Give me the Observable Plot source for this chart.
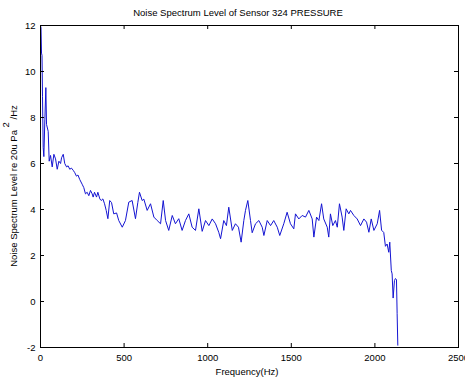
<!DOCTYPE html>
<html>
<head>
<meta charset="utf-8">
<script src="https://cdn.jsdelivr.net/npm/d3@7"></script>
<script src="https://cdn.jsdelivr.net/npm/@observablehq/plot@0.6"></script>
<style>
  html, body { margin: 0; padding: 0; background: #fff; }
  #chart { position: relative; width: 465px; height: 379px; }
</style>
</head>
<body>
<div id="chart"></div>
<script>
const titleText = "Noise Spectrum Level of Sensor 324 PRESSURE";
const xLabel = "Frequency(Hz)";
const yLabelMain = "Noise Spectrum Level re 20u Pa ";
const yLabelSup = "2";
const yLabelEnd = " /Hz";

const xTicks = [0, 500, 1000, 1500, 2000, 2500];
const yTicks = [-2, 0, 2, 4, 6, 8, 10, 12];

const freq = [0,3,6,9,12,16,20,26,32,36,46,52,60,70,80,90,100,110,120,126,136,145,156,165,175,185,196,205,215,224,235,249,259,269,279,289,299,309,315,323,335,343,355,363,373,383,393,403,414,425,438,455,468,489,508,528,548,568,582,592,608,618,638,658,678,698,718,734,748,767,788,807,827,847,867,887,907,927,947,967,987,1007,1027,1047,1066,1077,1096,1112,1126,1147,1166,1184,1200,1216,1226,1240,1256,1266,1286,1306,1326,1336,1356,1376,1395,1416,1431,1455,1475,1495,1515,1525,1545,1565,1585,1605,1625,1635,1651,1665,1681,1694,1715,1724,1734,1748,1764,1775,1788,1804,1814,1828,1844,1854,1874,1894,1914,1934,1950,1964,1978,1994,2014,2028,2040,2053,2063,2073,2083,2089,2098,2103,2109,2117,2123,2129,2133,2137];
const level = [12.0,11.9,10.8,10.7,8.9,6.7,6.3,7.9,9.3,7.7,7.4,6.1,6.35,5.85,6.4,6.2,5.75,6.1,6.0,6.25,6.4,6.0,5.85,5.9,5.75,5.8,5.7,5.6,5.45,5.5,5.3,5.1,4.95,4.68,4.75,4.6,4.83,4.68,4.54,4.75,4.54,4.75,4.46,4.39,4.46,4.25,3.96,3.6,4.39,4.3,3.81,3.85,3.52,3.23,3.52,4.32,4.39,3.6,4.3,4.75,4.39,4.45,3.96,4.25,3.67,3.52,3.38,4.39,3.52,3.09,3.74,3.38,3.6,3.09,3.52,3.81,3.23,3.09,4.03,3.05,3.52,3.3,3.59,3.38,3.01,2.73,3.52,3.3,4.1,3.09,3.38,3.23,2.58,3.52,3.96,4.39,3.52,2.99,3.38,3.52,3.23,2.87,3.52,3.3,3.52,3.23,2.87,3.38,3.88,3.38,3.16,3.81,3.59,3.74,3.67,3.96,3.59,2.8,3.67,3.52,4.25,3.59,3.23,2.8,3.81,3.3,3.52,3.23,4.25,3.67,3.09,4.03,3.81,3.96,3.74,3.59,3.3,3.59,3.45,3.01,3.59,3.09,3.38,3.96,3.1,3.0,2.4,2.5,2.14,2.58,1.35,1.2,0.15,0.91,1.0,0.95,-0.53,-1.9];

const data = freq.map((f, i) => ({f, v: level[i]}));

const W = 465, H = 379;
const mL = 40, mR = 7, mT = 25, mB = 32;
const innerW = W - mL - mR, innerH = H - mT - mB;
const tick = 4;
const font = "Liberation Sans, Arial, sans-serif";

const plot = Plot.plot({
  width: W,
  height: H,
  marginLeft: mL, marginRight: mR, marginTop: mT, marginBottom: mB,
  style: {fontFamily: font, fontSize: "9.5px", color: "#000", background: "#fff"},
  x: {domain: [0, 2500]},
  y: {domain: [-2, 12]},
  marks: [
    Plot.line(data, {x: "f", y: "v", stroke: "#1414d2", strokeWidth: 1}),
    Plot.frame({stroke: "#000", strokeWidth: 1}),
    Plot.tickX(xTicks, {x: d => d, insetTop: innerH - tick, stroke: "#000"}),
    Plot.tickX(xTicks, {x: d => d, insetBottom: innerH - tick, stroke: "#000"}),
    Plot.tickY(yTicks, {y: d => d, insetRight: innerW - tick, stroke: "#000"}),
    Plot.tickY(yTicks, {y: d => d, insetLeft: innerW - tick, stroke: "#000"}),
    Plot.axisX(xTicks, {anchor: "bottom", tickSize: 0, tickPadding: 7, label: null, tickFormat: d => String(d)}),
    Plot.axisY(yTicks, {anchor: "left", tickSize: 0, tickPadding: 5, label: null, tickFormat: d => String(d)})
  ]
});

document.getElementById("chart").appendChild(plot);

const svg = d3.select(plot);
svg.append("text")
  .attr("x", 238).attr("y", 16)
  .attr("text-anchor", "middle")
  .attr("font-family", font).attr("font-size", "9.5px").attr("fill", "#000")
  .text(titleText);
svg.append("text")
  .attr("x", 247).attr("y", 375)
  .attr("text-anchor", "middle")
  .attr("font-family", font).attr("font-size", "9.5px").attr("fill", "#000")
  .text(xLabel);
const yl = svg.append("text")
  .attr("transform", "translate(17,186) rotate(-90)")
  .attr("text-anchor", "middle")
  .attr("font-family", font).attr("font-size", "9.5px").attr("fill", "#000");
yl.append("tspan").text(yLabelMain);
yl.append("tspan").attr("dy", "-0.8em").text(yLabelSup);
yl.append("tspan").attr("dy", "0.8em").text(yLabelEnd);
</script>
</body>
</html>
